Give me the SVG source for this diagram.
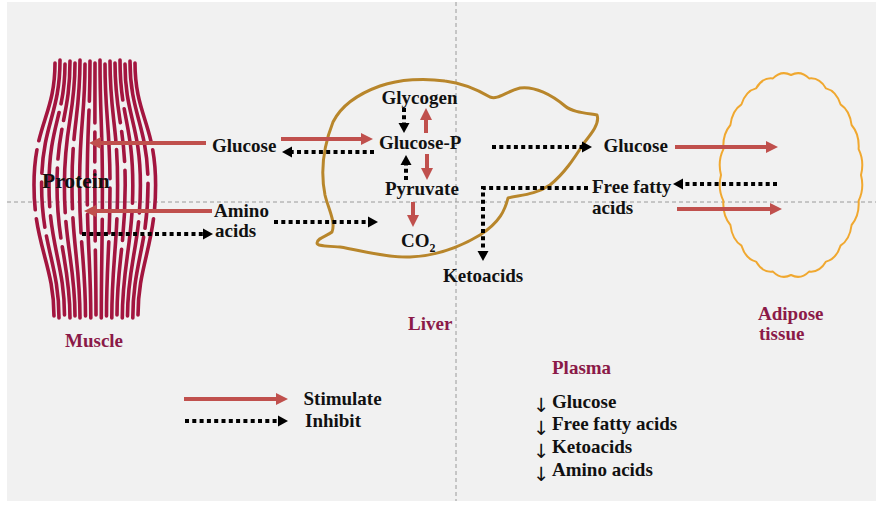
<svg xmlns="http://www.w3.org/2000/svg" width="881" height="507" viewBox="0 0 881 507">
  <defs>
    <style>
      .t { font-family: "Liberation Serif", "Times New Roman", serif; font-weight: bold; font-size: 19px; fill: #111; }
      .lbl { font-family: "Liberation Serif", "Times New Roman", serif; font-weight: bold; font-size: 19px; fill: #8b1a48; }
      .arr { font-family: "DejaVu Sans", sans-serif; font-size: 19.5px; fill: #111; }
      .stim { stroke: #c0504d; stroke-width: 4; fill: none; marker-end: url(#headRed); }
      .inh { stroke: #000; stroke-width: 4; fill: none; stroke-dasharray: 4 3.3; marker-end: url(#headBlack); }
      .guide { stroke: #9a9a9a; stroke-width: 1; stroke-dasharray: 4 3; fill: none; }
      .m { stroke: #a3153f; stroke-width: 3.6; fill: none; stroke-linecap: round; }
      .da { stroke-dasharray: 80 9 60 9 300; }
      .db { stroke-dasharray: 40 9 95 9 300; }
      .dc { stroke-dasharray: 115 9 45 9 300; }
      .dd { stroke-dasharray: 60 9 30 9 70 9 300; }
      .de { stroke-dasharray: 150 9 300; }
    </style>
    <marker id="headRed" markerUnits="userSpaceOnUse" markerWidth="13" markerHeight="13" refX="0" refY="6.5" orient="auto">
      <path d="M0,0.5 L12,6.5 L0,12.5 Z" fill="#c0504d"/>
    </marker>
    <marker id="headBlack" markerUnits="userSpaceOnUse" markerWidth="12" markerHeight="12" refX="0" refY="6" orient="auto">
      <path d="M0,0.5 L10,6 L0,11.5 Z" fill="#000"/>
    </marker>
  </defs>

  <!-- page -->
  <rect x="0" y="0" width="881" height="507" fill="#ffffff"/>
  <rect x="7" y="2" width="869" height="499" fill="#f1f1f1"/>
  <line class="guide" x1="456" y1="2" x2="456" y2="501"/>
  <line class="guide" x1="7" y1="202" x2="876" y2="202"/>

  <!-- muscle: spindle of fibres -->
  <g id="muscle">
    <path class="m da" d="M55,63 C55,115 34,125 34,185 C34,245 54,265 54,316"/>
    <path class="m dc" d="M60,60 C60,115 41.6,125 41.6,185 C41.6,245 59,265 59,318"/>
    <path class="m db" d="M65,64 C65,115 49,125 49,185 C49,245 64.5,265 64.5,315"/>
    <path class="m dd" d="M70,61 C70,115 57,125 57,185 C57,245 70,265 70,318"/>
    <path class="m de" d="M75,63 C75,115 64.4,125 64.4,185 C64.4,245 75,265 75,316"/>
    <path class="m da" d="M80,60 C80,115 72,125 72,185 C72,245 80,265 80,318"/>
    <path class="m dc" d="M85,64 C85,115 79.6,125 79.6,185 C79.6,245 85.5,265 85.5,316"/>
    <path class="m db" d="M90,61 C90,115 87.2,125 87.2,185 C87.2,245 90.8,265 90.8,318"/>
    <path class="m dd" d="M95,63 C95,115 94.8,125 94.8,185 C94.8,245 96,265 96,315"/>
    <path class="m de" d="M100,60 C100,115 102.4,125 102.4,185 C102.4,245 101.3,265 101.3,318"/>
    <path class="m dc" d="M105,64 C105,115 110,125 110,185 C110,245 106.5,265 106.5,316"/>
    <path class="m da" d="M110,61 C110,115 117.6,125 117.6,185 C117.6,245 111.8,265 111.8,318"/>
    <path class="m dd" d="M115,63 C115,115 125.2,125 125.2,185 C125.2,245 117,265 117,315"/>
    <path class="m db" d="M120,60 C120,115 132.8,125 132.8,185 C132.8,245 122.3,265 122.3,318"/>
    <path class="m de" d="M125,64 C125,115 140.4,125 140.4,185 C140.4,245 127.5,265 127.5,316"/>
    <path class="m dc" d="M130,61 C130,115 148,125 148,185 C148,245 132.8,265 132.8,318"/>
    <path class="m da" d="M135,63 C135,115 155.6,125 155.6,185 C155.6,245 138,265 138,315"/>
    <text class="t" x="42" y="188" style="font-size:21.5px">Protein</text>
    <text class="lbl" x="65" y="346.5">Muscle</text>
  </g>

  <!-- liver outline -->
  <g id="liver">
    <path d="M333,122 C340,108 355,95 380,86 C400,79 425,78 445,81 C462,83 478,90 490,97 C498,100 505,92 520,88 C535,86 552,95 565,106 C572,112 585,113 597,115 C600,123 592,133 584,143 C575,157 565,173 550,185 C535,195 520,195 508,198 C505,210 500,222 480,235 C460,247 435,256 410,257 C385,258 360,250 340,247 C325,246 317,246 317,243 C317,238 327,236 332,232 C336,222 328,208 325,195 C321,175 322,150 333,122 Z" fill="none" stroke="#b8862b" stroke-width="3" stroke-linejoin="round"/>
    <text class="lbl" x="408" y="330">Liver</text>
  </g>

  <!-- adipose cell -->
  <g id="adipose">
    <path d="M861,175 Q864.5,188.9 858.6,200.9 Q859.6,215.6 851.6,225 Q849.8,239.6 840.5,245.7 Q836.2,259.1 826,261.6 Q819.4,272.9 809.1,271.6 Q800.7,280 791,275 Q781.3,280 772.9,271.6 Q762.6,272.9 756,261.6 Q745.8,259.1 741.5,245.7 Q732.2,239.6 730.4,225 Q722.4,215.6 723.4,200.9 Q717.5,188.9 721,175 Q717.5,161.1 723.4,149.1 Q722.4,134.4 730.4,125 Q732.2,110.4 741.5,104.3 Q745.8,90.9 756,88.4 Q762.6,77.1 772.9,78.4 Q781.3,70 791,75 Q800.7,70 809.1,78.4 Q819.4,77.1 826,88.4 Q836.2,90.9 840.5,104.3 Q849.8,110.4 851.6,125 Q859.6,134.4 858.6,149.1 Q864.5,161.1 861,175 Z" fill="none" stroke="#f0a830" stroke-width="2" stroke-linejoin="round"/>
    <text class="lbl" x="758" y="320">Adipose</text>
    <text class="lbl" x="759" y="340">tissue</text>
  </g>

  <!-- metabolites -->
  <g id="glucose-blood"><text class="t" x="212" y="151.5">Glucose</text></g>
  <g id="amino-acids">
    <text class="t" x="214" y="216.5">Amino</text>
    <text class="t" x="215" y="237">acids</text>
  </g>
  <g id="glycogen"><text class="t" x="381.5" y="103.5">Glycogen</text></g>
  <g id="glucose-p"><text class="t" x="379" y="148.5">Glucose-P</text></g>
  <g id="pyruvate"><text class="t" x="385" y="194.5">Pyruvate</text></g>
  <g id="co2"><text class="t" x="401" y="246.5">CO<tspan dy="5" style="font-size:12px">2</tspan></text></g>
  <g id="glucose-out"><text class="t" x="603.5" y="152.3">Glucose</text></g>
  <g id="ffa">
    <text class="t" x="592" y="193.3">Free fatty</text>
    <text class="t" x="592" y="213.5">acids</text>
  </g>
  <g id="ketoacids"><text class="t" x="443" y="281.5">Ketoacids</text></g>

  <!-- connectors -->
  <g id="connectors">
    <!-- stimulate -->
    <line class="stim" x1="206" y1="143" x2="101" y2="143"/>
    <line class="stim" x1="281" y1="139" x2="361" y2="139"/>
    <line class="stim" x1="426" y1="133" x2="426" y2="120"/>
    <line class="stim" x1="427" y1="154" x2="427" y2="168"/>
    <line class="stim" x1="413" y1="202" x2="413" y2="215"/>
    <line class="stim" x1="212" y1="211" x2="96" y2="211"/>
    <line class="stim" x1="675" y1="147" x2="766" y2="147"/>
    <line class="stim" x1="677" y1="209" x2="770" y2="209"/>
    <!-- inhibit -->
    <line class="inh" x1="374" y1="152" x2="292" y2="152"/>
    <line class="inh" x1="404" y1="108" x2="404" y2="123"/>
    <line class="inh" x1="406" y1="180" x2="406" y2="165"/>
    <line class="inh" x1="82" y1="234" x2="203" y2="234"/>
    <line class="inh" x1="274" y1="222" x2="368" y2="222"/>
    <line class="inh" x1="492" y1="147" x2="582" y2="147"/>
    <line class="inh" x1="777" y1="184" x2="683" y2="184"/>
    <polyline class="inh" points="588,188 483,188 483,251"/>
  </g>

  <!-- key -->
  <g id="legend">
    <line class="stim" x1="184" y1="399" x2="276" y2="399"/>
    <line class="inh" x1="185" y1="421" x2="278" y2="421"/>
    <text class="t" x="303.5" y="405">Stimulate</text>
    <text class="t" x="305" y="426.7">Inhibit</text>
  </g>

  <!-- plasma summary -->
  <g id="plasma">
    <text class="lbl" x="552" y="374">Plasma</text>
    <text class="arr"><tspan x="533" y="412">↓</tspan><tspan x="533" y="435">↓</tspan><tspan x="533" y="458">↓</tspan><tspan x="533" y="481">↓</tspan></text>
    <text class="t" x="552" y="408">Glucose</text>
    <text class="t" x="552" y="430">Free fatty acids</text>
    <text class="t" x="552" y="453">Ketoacids</text>
    <text class="t" x="552" y="476">Amino acids</text>
  </g>
</svg>
